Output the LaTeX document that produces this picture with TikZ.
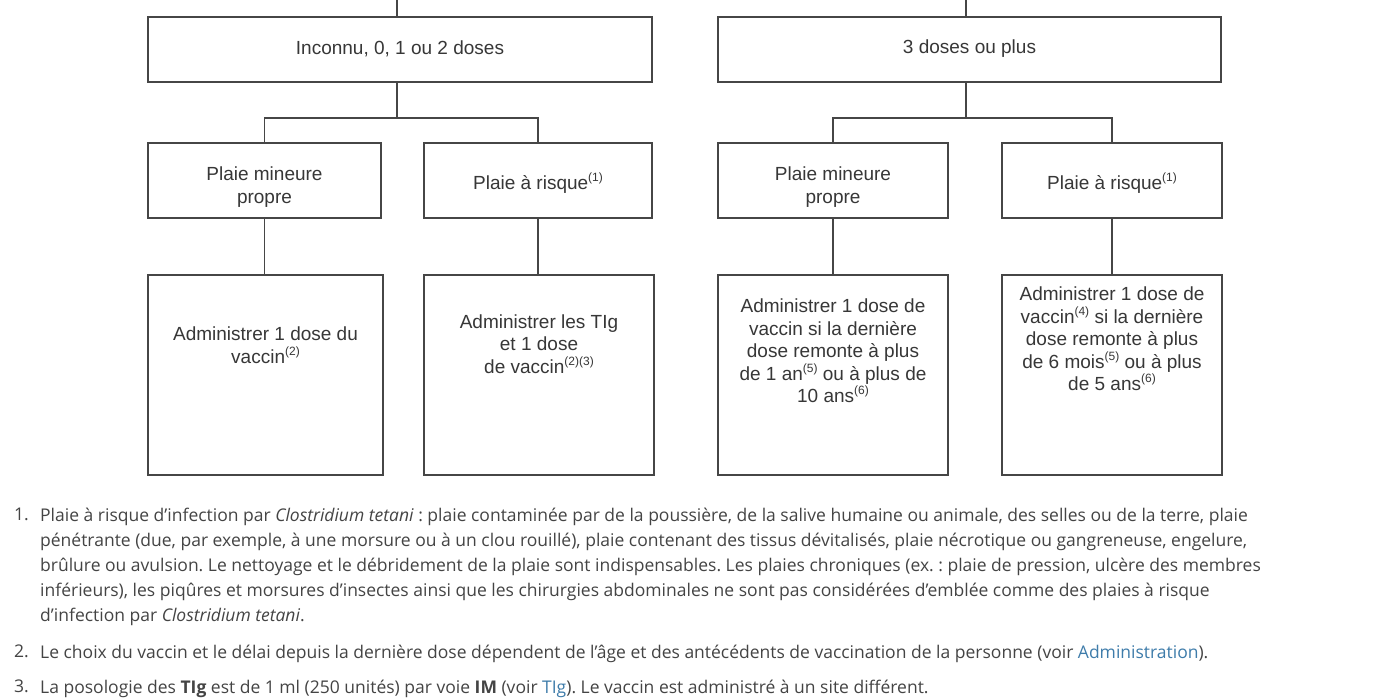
\documentclass[tikz,border=0pt]{standalone}
\usepackage{fontspec}
\setmainfont{Liberation Sans}
\newfontfamily\notefont{Open Sans}
\definecolor{boxline}{RGB}{70,70,70}
\definecolor{boxtext}{RGB}{55,55,55}
\definecolor{notetext}{RGB}{68,68,68}
\definecolor{linkc}{RGB}{62,124,170}
\newcommand\supx[1]{\raisebox{0.42em}{\fontsize{12}{12}\selectfont #1}}
\frenchspacing
\begin{document}
\begin{tikzpicture}[x=1pt,y=-1pt,
  box/.style={draw=boxline,line width=1.3pt,rectangle,inner sep=0pt},
  conn/.style={draw=boxline,line width=1.3pt},
  btxt/.style={text=boxtext,align=center,inner sep=0pt,font=\fontsize{19}{22.5}\selectfont},
  ntxt/.style={text=notetext,align=left,inner sep=0pt,anchor=north west,font=\notefont\fontsize{17.5}{25}\selectfont\frenchspacing},
  nnum/.style={text=notetext,inner sep=0pt,anchor=north west,font=\notefont\fontsize{17.5}{25}\selectfont}]
\useasboundingbox[fill=white] (0,0) rectangle (1400,700);

% top boxes
\node[box,minimum width=504pt,minimum height=65pt] (A) at (400,49.5) {};
\node[box,minimum width=503pt,minimum height=65pt] (B) at (969.5,49.5) {};
\node[btxt] (At) at (400,49) {Inconnu, 0, 1 ou 2 doses};
\node[btxt] (Bt) at (969.5,49) {3 doses ou plus};

% middle boxes
\node[box,minimum width=233pt,minimum height=75pt] (C1) at (264.5,180.5) {};
\node[box,minimum width=228pt,minimum height=75pt] (C2) at (538,180.5) {};
\node[box,minimum width=230pt,minimum height=75pt] (C3) at (833,180.5) {};
\node[box,minimum width=220pt,minimum height=75pt] (C4) at (1112,180.5) {};
\node[btxt] (C1t) at (264.5,187) {Plaie mineure\\propre};
\node[btxt] (C2t) at (538,183) {Plaie à risque\supx{(1)}};
\node[btxt] (C3t) at (833,187) {Plaie mineure\\propre};
\node[btxt] (C4t) at (1112,183) {Plaie à risque\supx{(1)}};

% bottom boxes
\node[box,minimum width=235pt,minimum height=200pt] (D1) at (265.5,375) {};
\node[box,minimum width=230pt,minimum height=200pt] (D2) at (539,375) {};
\node[box,minimum width=230pt,minimum height=200pt] (D3) at (833,375) {};
\node[box,minimum width=220pt,minimum height=200pt] (D4) at (1112,375) {};
\node[btxt] (D1t) at (265.5,345) {Administrer 1 dose du\\vaccin\supx{(2)}};
\node[btxt] (D2t) at (539,344) {Administrer les TIg\\et 1 dose\\de vaccin\supx{(2)(3)}};
\node[btxt] (D3t) at (833,351) {Administrer 1 dose de\\vaccin si la dernière\\dose remonte à plus\\de 1 an\supx{(5)} ou à plus de\\10 ans\supx{(6)}};
\node[btxt] (D4t) at (1112,339) {Administrer 1 dose de\\vaccin\supx{(4)} si la dernière\\dose remonte à plus\\de 6 mois\supx{(5)} ou à plus\\de 5 ans\supx{(6)}};

% connectors
\coordinate (topA) at (397,0);
\coordinate (topB) at (966,0);
\coordinate (jA) at (397,118);
\coordinate (jB) at (966,118);
\draw[conn] (topA) -- (topA |- A.north);
\draw[conn] (topB) -- (topB |- B.north);
\draw[conn] (jA |- A.south) -- (jA);
\draw[conn] (jB |- B.south) -- (jB);
\draw[conn] (C1.north) |- (jA) -| (C2.north);
\draw[conn] (C3.north) |- (jB) -| (C4.north);
\draw[conn] (C1.south) -- (C1.south |- D1.north);
\draw[conn] (C2.south) -- (C2.south |- D2.north);
\draw[conn] (C3.south) -- (C3.south |- D3.north);
\draw[conn] (C4.south) -- (C4.south |- D4.north);

% notes
\node[nnum] (n1) at (14,508) {1.};
\node[ntxt] (f1) at (40,508) {Plaie à risque d’infection par \textit{Clostridium tetani} : plaie contaminée par de la poussière, de la salive humaine ou animale, des selles ou de la terre, plaie\\
pénétrante (due, par exemple, à une morsure ou à un clou rouillé), plaie contenant des tissus dévitalisés, plaie nécrotique ou gangreneuse, engelure,\\
brûlure ou avulsion. Le nettoyage et le débridement de la plaie sont indispensables. Les plaies chroniques (ex. : plaie de pression, ulcère des membres\\
inférieurs), les piqûres et morsures d’insectes ainsi que les chirurgies abdominales ne sont pas considérées d’emblée comme des plaies à risque\\
d’infection par \textit{Clostridium tetani}.};
\node[nnum] (n2) at (14,645) {2.};
\node[ntxt] (f2) at (40,645) {Le choix du vaccin et le délai depuis la dernière dose dépendent de l’âge et des antécédents de vaccination de la personne (voir \textcolor{linkc}{Administration}).};
\node[nnum] (n3) at (14,680) {3.};
\node[ntxt] (f3) at (40,680) {La posologie des \textbf{TIg} est de 1 ml (250 unités) par voie \textbf{IM} (voir \textcolor{linkc}{TIg}). Le vaccin est administré à un site différent.};
\end{tikzpicture}
\end{document}
